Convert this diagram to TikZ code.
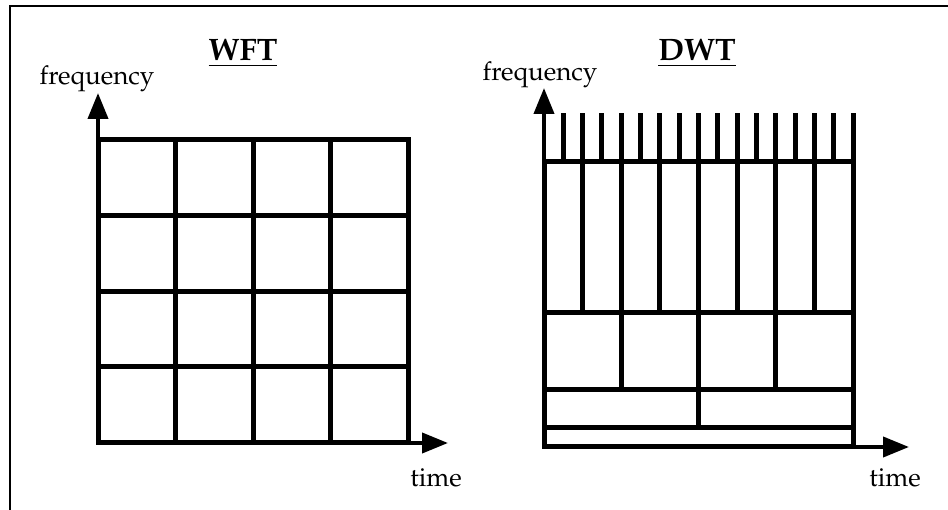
\documentclass[tikz,border=0pt]{standalone}
\usepackage[T1]{fontenc}
\usepackage{mathpazo}
\usetikzlibrary{arrows.meta}
\begin{document}
\begin{tikzpicture}[x=1pt,y=-1pt,
  frameline/.style={line width=2.5pt},
  gridline/.style={line width=5pt},
  axisline/.style={line width=4pt,-{Triangle[length=26pt,width=20pt]}},
  titletext/.style={font=\fontsize{31}{36}\selectfont\bfseries,inner sep=0pt},
  labeltext/.style={font=\fontsize{26}{30}\selectfont,inner sep=0pt}]
\useasboundingbox (0,0) rectangle (948,510);
% outer frame (top and left only visible)
\coordinate (fl) at (10,510);
\coordinate (ftl) at (10,6);
\coordinate (fr) at (948,6);
\draw[frameline] (fl) -- (ftl) -- (fr);

% ---------------- WFT ----------------
\node[titletext] (wft) at (243,53) {\underline{WFT}};
\node[labeltext] (wfreq) at (97,79) {frequency};
\node[labeltext] (wtime) at (436,478) {time};
\coordinate (wo) at (98,443);
\coordinate (wy) at (98,93);
\coordinate (wx) at (448,443);
\draw[gridline] (98,140) rectangle (408,443);
\foreach \y in {216,292,367} \draw[gridline] (98,\y) -- (408,\y);
\foreach \x in {175.5,253,330.5} \draw[gridline] (\x,140) -- (\x,443);
\draw[axisline] (wo) -- (wy);
\draw[axisline] (wo) -- (wx);

% ---------------- DWT ----------------
\node[titletext] (dwt) at (697,53) {\underline{DWT}};
\node[labeltext] (dfreq) at (540,75) {frequency};
\node[labeltext] (dtime) at (895,478) {time};
\coordinate (do) at (544,447);
\coordinate (dy) at (544,88);
\coordinate (dx) at (909,447);
\draw[gridline] (544,162) rectangle (853,447);
\foreach \y in {313,390,428} \draw[gridline] (544,\y) -- (853,\y);
% top band spikes (16)
\foreach \k in {1,...,16} \draw[gridline] (544+\k*19.3125,162) -- (544+\k*19.3125,113);
% 8 bands
\foreach \k in {1,...,7} \draw[gridline] (544+\k*38.625,162) -- (544+\k*38.625,313);
% 4 bands
\foreach \k in {1,2,3} \draw[gridline] (544+\k*77.25,313) -- (544+\k*77.25,390);
% 2 bands
\draw[gridline] (698.5,390) -- (698.5,428);
\draw[axisline] (do) -- (dy);
\draw[axisline] (do) -- (dx);
\end{tikzpicture}
\end{document}
